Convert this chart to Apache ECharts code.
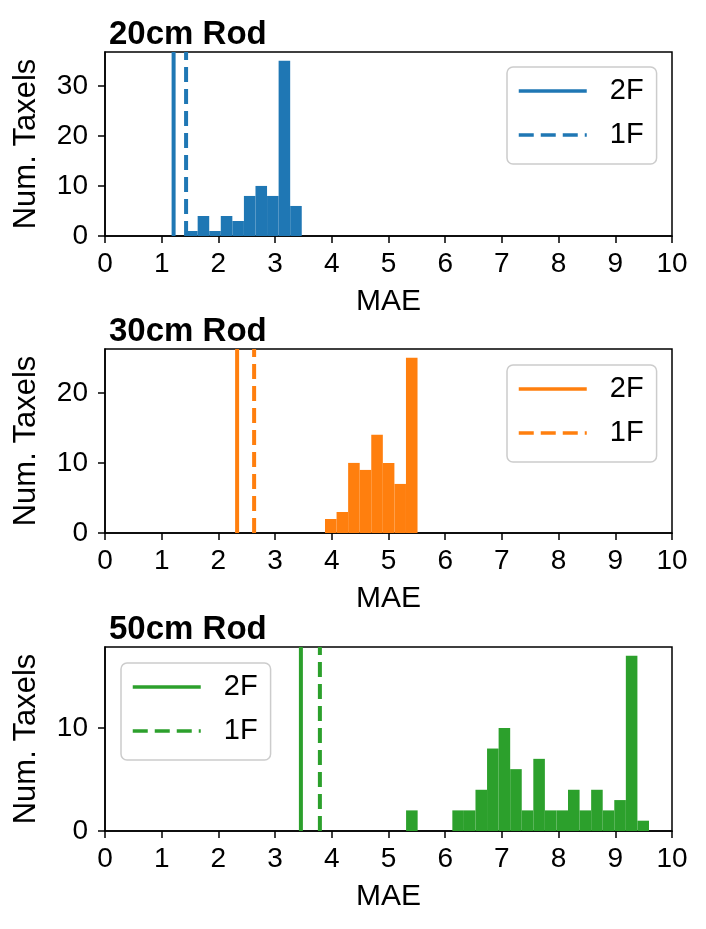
<!DOCTYPE html>
<html>
<head>
<meta charset="UTF-8">
<title>MAE per rod</title>
<script src="https://cdn.jsdelivr.net/npm/echarts@6/dist/echarts.min.js"></script>
<style>
  html, body { margin: 0; padding: 0; background: #fff; }
  #main { width: 706px; height: 929px; }
</style>
</head>
<body>
<div id="main"></div>
<script>
// values
var rodTitles = ['20cm Rod', '30cm Rod', '50cm Rod'];
var rodColors = ['#1f77b4', '#ff7f0e', '#2ca02c'];
var binStart = [1.43, 3.88, 5.31];
var binWidth = 0.204;
var counts20 = [1, 4, 1, 4, 3, 8, 10, 8, 35, 6];
var counts30 = [2, 3, 10, 9, 14, 10, 7, 25];
var counts50 = [2, 0, 0, 0, 2, 2, 4, 8, 10, 6, 2, 7, 2, 2, 4, 2, 4, 2, 3, 17, 1];
var line2F = [1.21, 2.33, 3.455];
var line1F = [1.43, 2.63, 3.79];
var yMax = [36.75, 26.25, 17.85];
var yTicks = [[0, 10, 20, 30], [0, 10, 20], [0, 10]];
var legendNames = ['2F', '1F'];

var allCounts = [counts20, counts30, counts50];
var gridTops = [52, 349, 647];
var legendPos = [[507, 67], [507, 365], [121, 663]];
var font = 'Liberation Sans';

var chart = echarts.init(document.getElementById('main'));

var grids = [], xAxes = [], yAxes = [], series = [], legends = [], graphics = [];

allCounts.forEach(function (counts, i) {
    grids.push({
        left: 105, top: gridTops[i], width: 567, height: 184,
        show: true, borderColor: '#000', borderWidth: 1.5, containLabel: false
    });
    xAxes.push({
        gridIndex: i, type: 'value', min: 0, max: 10, interval: 1,
        name: 'MAE', nameLocation: 'middle', nameGap: 51,
        nameTextStyle: { fontFamily: font, fontSize: 30, color: '#000' },
        axisLine: { lineStyle: { color: '#000', width: 1.5 } },
        axisTick: { show: true, length: 7, lineStyle: { color: '#000', width: 1.5 } },
        axisLabel: { fontFamily: font, fontSize: 28, color: '#000', margin: 14 },
        splitLine: { show: false }
    });
    yAxes.push({
        gridIndex: i, type: 'value', min: 0, max: yMax[i],
        name: 'Num. Taxels', nameLocation: 'middle', nameGap: 63,
        nameTextStyle: { fontFamily: font, fontSize: 31, color: '#000' },
        axisLine: { show: true, lineStyle: { color: '#000', width: 1.5 } },
        axisTick: { show: true, length: 7, customValues: yTicks[i], lineStyle: { color: '#000', width: 1.5 } },
        axisLabel: { fontFamily: font, fontSize: 28, color: '#000', margin: 17, customValues: yTicks[i] },
        splitLine: { show: false }
    });

    var bins = counts.map(function (c, k) {
        var x0 = binStart[i] + k * binWidth;
        return [x0, x0 + binWidth, c];
    });
    series.push({
        type: 'custom', xAxisIndex: i, yAxisIndex: i, z: 1,
        data: bins,
        encode: { x: [0, 1], y: 2 },
        renderItem: function (params, api) {
            var p0 = api.coord([api.value(0), api.value(2)]);
            var p1 = api.coord([api.value(1), 0]);
            return {
                type: 'rect',
                shape: { x: p0[0], y: p0[1], width: p1[0] - p0[0], height: p1[1] - p0[1] },
                style: { fill: rodColors[i] }
            };
        }
    });

    series.push({
        name: 'p' + i + '_2F', type: 'line', xAxisIndex: i, yAxisIndex: i, z: 3,
        symbol: 'none', color: rodColors[i],
        lineStyle: { color: rodColors[i], width: 4 },
        data: [[line2F[i], 0], [line2F[i], yMax[i]]]
    });
    series.push({
        name: 'p' + i + '_1F', type: 'line', xAxisIndex: i, yAxisIndex: i, z: 3,
        symbol: 'none', color: rodColors[i],
        lineStyle: { color: rodColors[i], width: 4, type: [15, 7] },
        data: [[line1F[i], 0], [line1F[i], yMax[i]]]
    });

    legends.push({
        data: legendNames.map(function (n) { return 'p' + i + '_' + n; }),
        formatter: function (name) { return name.split('_')[1]; },
        orient: 'vertical', left: legendPos[i][0], top: legendPos[i][1],
        itemWidth: 68, itemHeight: 14, itemGap: 14,
        padding: [9, 13, 14, 10],
        backgroundColor: 'rgba(255,255,255,0.8)',
        borderColor: '#cccccc', borderWidth: 1.5, borderRadius: 6,
        selectedMode: false,
        itemStyle: { opacity: 0 },
        lineStyle: { width: 3.5 },
        textStyle: { fontFamily: font, fontSize: 29, color: '#000', lineHeight: 30, padding: [0, 0, 0, 18] }
    });

    graphics.push({
        type: 'text', left: 109, top: gridTops[i] - 34,
        style: { text: rodTitles[i], fontFamily: font, fontSize: 33, fontWeight: 'bold', fill: '#000' }
    });
});

chart.setOption({
    animation: false,
    backgroundColor: '#fff',
    grid: grids,
    xAxis: xAxes,
    yAxis: yAxes,
    legend: legends,
    graphic: graphics,
    series: series
});
</script>
</body>
</html>
